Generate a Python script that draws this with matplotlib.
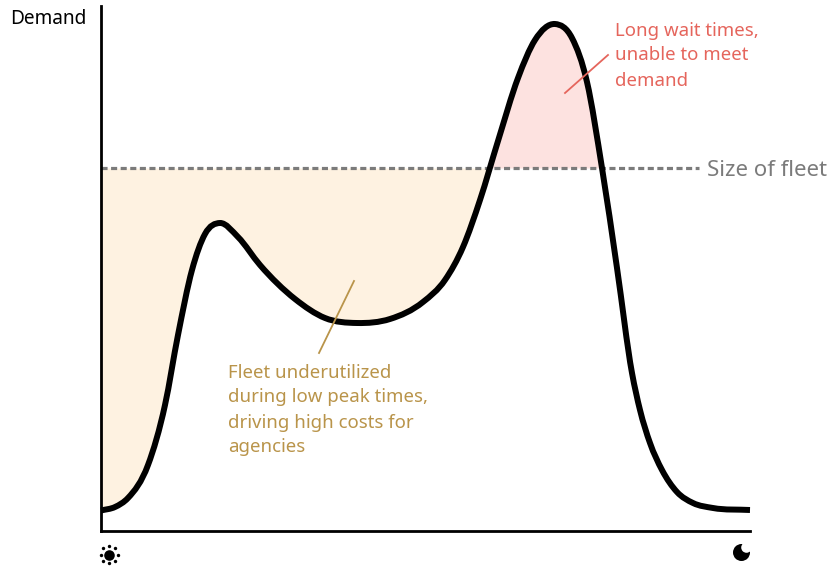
import numpy as np
import matplotlib
matplotlib.use("Agg")
import matplotlib.pyplot as plt
from matplotlib.path import Path
from matplotlib.patches import PathPatch

# time = distance along x axis, demand = height over x axis
time_pts = [0, 14, 27, 47, 64, 77, 91, 104, 119, 137, 159, 194, 224, 256, 289, 322, 344, 362,
            379, 397, 417, 434, 454, 471, 486, 501, 516, 531, 539, 549, 561, 576, 592, 612, 649]
demand = [20, 23.5, 32.5, 65.5, 125.5, 195.5, 260.5, 296.5, 307.5, 293.5, 265.5, 231.5, 212.5,
          207.5, 211.5, 228.5, 250.5, 283.5, 330.5, 389.5, 452.5, 490.5, 506.5, 492.5, 448.5,
          362.5, 262.5, 157.5, 120.5, 87.5, 60.5, 38.5, 27.5, 22.5, 20.5]
fleet_size = 362.5

time_pts = np.array(time_pts, dtype=float)
demand = np.array(demand, dtype=float)

ink = "#000000"
tan_fill = "#fef2e1"
pink_fill = "#fde2e0"
tan_text = "#b9944a"
red_text = "#e5655c"
grey = "#7b7b7b"
plt.rcParams["font.family"] = ["Noto Sans", "DejaVu Sans"]


# smooth stroke through the read points, bezier handles from the local slope
def smooth_path(x, y):
    slope = np.gradient(y, x)
    verts = [(x[0], y[0])]
    for i in range(len(x) - 1):
        dx = (x[i + 1] - x[i]) / 3
        verts.append((x[i] + dx, y[i] + slope[i] * dx))
        verts.append((x[i + 1] - dx, y[i + 1] - slope[i + 1] * dx))
        verts.append((x[i + 1], y[i + 1]))
    codes = [Path.MOVETO] + [Path.CURVE4] * (len(verts) - 1)
    return Path(verts, codes)


curve = smooth_path(time_pts, demand)
flat = curve.to_polygons(closed_only=False)[0]
flat_t, flat_d = flat[:, 0], flat[:, 1]

fig = plt.figure(figsize=(8.32, 5.66), dpi=100)
ax = fig.add_axes([101 / 832, 35.5 / 566, 649 / 832, 525 / 566])
ax.set_xlim(0, 649)
ax.set_ylim(0, 525)

# fill on both sides of the fleet line, tan only before the evening peak
ax.fill_between(flat_t, flat_d, fleet_size, where=(flat_d <= fleet_size) & (flat_t <= 420),
                interpolate=True, color=tan_fill, lw=0, zorder=1)
ax.fill_between(flat_t, flat_d, fleet_size, where=flat_d >= fleet_size, interpolate=True,
                color=pink_fill, lw=0, zorder=1)

ax.plot([0, 598], [fleet_size, fleet_size], color=grey, lw=2.3, dashes=(1.9, 1.1), zorder=2)

ax.add_patch(PathPatch(curve, fc="none", ec=ink, lw=4.3,
                       capstyle="butt", joinstyle="round", zorder=3, clip_on=False))

for s in ["top", "right"]:
    ax.spines[s].set_visible(False)
for s in ["left", "bottom"]:
    ax.spines[s].set_linewidth(2.0)
ax.set_xticks([])
ax.set_yticks([])
ax.patch.set_alpha(0)

# leader lines
ax.plot([218, 253], [177.5, 249.5], color=tan_text, lw=1.3, zorder=4)
ax.plot([464, 507], [437.5, 475.5], color=red_text, lw=1.3, zorder=4)

ax.text(606, 360.5, "Size of fleet", color=grey, fontsize=16, va="center", ha="left", clip_on=False)
ax.text(-91, 512, "Demand", color=ink, fontsize=13.7, va="center", ha="left", clip_on=False)
ax.text(514, 475, "Long wait times,\nunable to meet\ndemand", color=red_text, fontsize=13.4,
        va="center", ha="left", linespacing=1.5)
ax.text(127, 120.5, "Fleet underutilized\nduring low peak times,\ndriving high costs for\nagencies",
        color=tan_text, fontsize=13.4, va="center", ha="left", linespacing=1.5)

# day and night icons under the x axis
ax.scatter([8.3], [-24], s=58, color=ink, lw=0, clip_on=False)
ang = np.arange(8) * np.pi / 4
ax.scatter(8.3 + 8.6 * np.cos(ang), -24 + 8.6 * np.sin(ang), s=6, color=ink, lw=0, clip_on=False)
ax.scatter([640.5], [-21.5], s=150, color=ink, lw=0, clip_on=False)
ax.scatter([645], [-16], s=58, color="white", lw=0, clip_on=False, zorder=5)

fig.savefig("out.png", dpi=100)
